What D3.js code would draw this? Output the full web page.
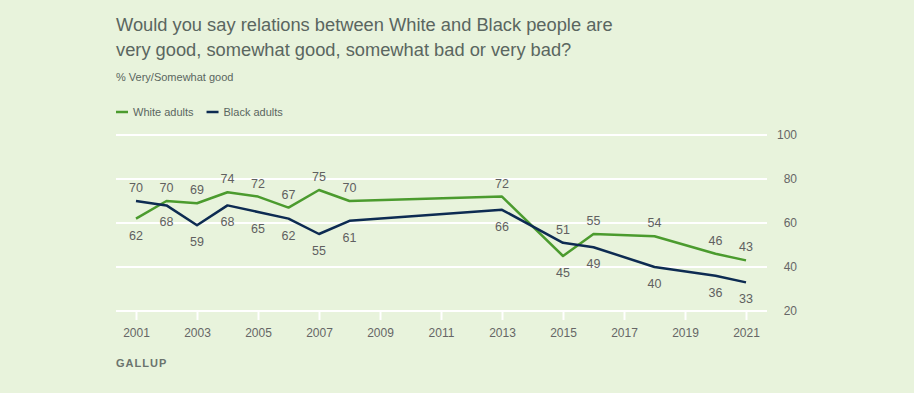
<!DOCTYPE html>
<html>
<head>
<meta charset="utf-8">
<script src="https://cdn.jsdelivr.net/npm/d3@7"></script>
<style>
  body { margin: 0; background: #e8f3dc; }
  svg { display: block; font-family: "Liberation Sans", Arial, sans-serif; }
</style>
</head>
<body>
<div id="chart"></div>
<script>
const years = [2001, 2002, 2003, 2004, 2005, 2006, 2007, 2008, 2013, 2015, 2016, 2018, 2020, 2021];
const white = [62, 70, 69, 74, 72, 67, 75, 70, 72, 45, 55, 54, 46, 43];
const black = [70, 68, 59, 68, 65, 62, 55, 61, 66, 51, 49, 40, 36, 33];
const xTicks = [2001, 2003, 2005, 2007, 2009, 2011, 2013, 2015, 2017, 2019, 2021];
const yTicks = [20, 40, 60, 80, 100];

const series = [
  { name: "White adults", values: white, color: "#4b9b2e" },
  { name: "Black adults", values: black, color: "#0d2b52" }
];

const W = 914, H = 393;
const svg = d3.select("#chart").append("svg")
  .attr("width", W)
  .attr("height", H);

svg.append("rect").attr("width", W).attr("height", H).attr("fill", "#e8f3dc");

const x = d3.scaleLinear().domain([2001, 2021]).range([136, 746]);
const y = d3.scaleLinear().domain([20, 100]).range([311, 135]);

// title
svg.append("text")
  .attr("x", 116).attr("y", 31)
  .attr("font-size", 18.3)
  .attr("fill", "#5a6660")
  .text("Would you say relations between White and Black people are");
svg.append("text")
  .attr("x", 116).attr("y", 56)
  .attr("font-size", 18.3)
  .attr("fill", "#5a6660")
  .text("very good, somewhat good, somewhat bad or very bad?");
svg.append("text")
  .attr("x", 116).attr("y", 81)
  .attr("font-size", 11)
  .attr("fill", "#5a6660")
  .text("% Very/Somewhat good");

// legend
let lx = 116;
series.forEach(s => {
  svg.append("line")
    .attr("x1", lx).attr("x2", lx + 12)
    .attr("y1", 112).attr("y2", 112)
    .attr("stroke", s.color).attr("stroke-width", 2.5);
  const t = svg.append("text")
    .attr("x", lx + 17).attr("y", 116)
    .attr("font-size", 11)
    .attr("fill", "#5a6660")
    .text(s.name);
  lx += 17 + t.node().getComputedTextLength() + 13;
});

// grid
svg.append("g").selectAll("line")
  .data(yTicks)
  .join("line")
  .attr("x1", 116).attr("x2", 767)
  .attr("y1", d => y(d)).attr("y2", d => y(d))
  .attr("stroke", "#ffffff").attr("stroke-width", 2);

svg.append("g").selectAll("text")
  .data(yTicks)
  .join("text")
  .attr("x", 797).attr("y", d => y(d) + 4)
  .attr("text-anchor", "end")
  .attr("font-size", 12)
  .attr("fill", "#666")
  .text(d => d);

// x axis
const xAxis = svg.append("g")
  .attr("transform", "translate(0,311)")
  .call(d3.axisBottom(x).tickValues(xTicks).tickFormat(d3.format("d")).tickSize(9).tickPadding(8));
xAxis.select(".domain").remove();
xAxis.selectAll(".tick line").attr("stroke", "#ffffff").attr("stroke-width", 2);
xAxis.selectAll(".tick text")
  .attr("font-size", 12)
  .attr("fill", "#666")
  .attr("font-family", "Liberation Sans, Arial, sans-serif");

// lines
const line = d3.line()
  .x((d, i) => x(years[i]))
  .y(d => y(d));

series.forEach(s => {
  svg.append("path")
    .datum(s.values)
    .attr("fill", "none")
    .attr("stroke", s.color)
    .attr("stroke-width", 2.5)
    .attr("stroke-linejoin", "round")
    .attr("d", line);
});

// value labels: higher series above, lower below
series.forEach((s, si) => {
  const other = series[1 - si].values;
  svg.append("g").selectAll("text")
    .data(s.values)
    .join("text")
    .attr("x", (d, i) => x(years[i]))
    .attr("y", (d, i) => d >= other[i] ? y(d) - 9 : y(d) + 21)
    .attr("text-anchor", "middle")
    .attr("font-size", 12.5)
    .attr("fill", "#606060")
    .text(d => d);
});

svg.append("text")
  .attr("x", 116).attr("y", 367)
  .attr("font-size", 11)
  .attr("font-weight", "bold")
  .attr("letter-spacing", 1)
  .attr("fill", "#6b736e")
  .text("GALLUP");
</script>
</body>
</html>
